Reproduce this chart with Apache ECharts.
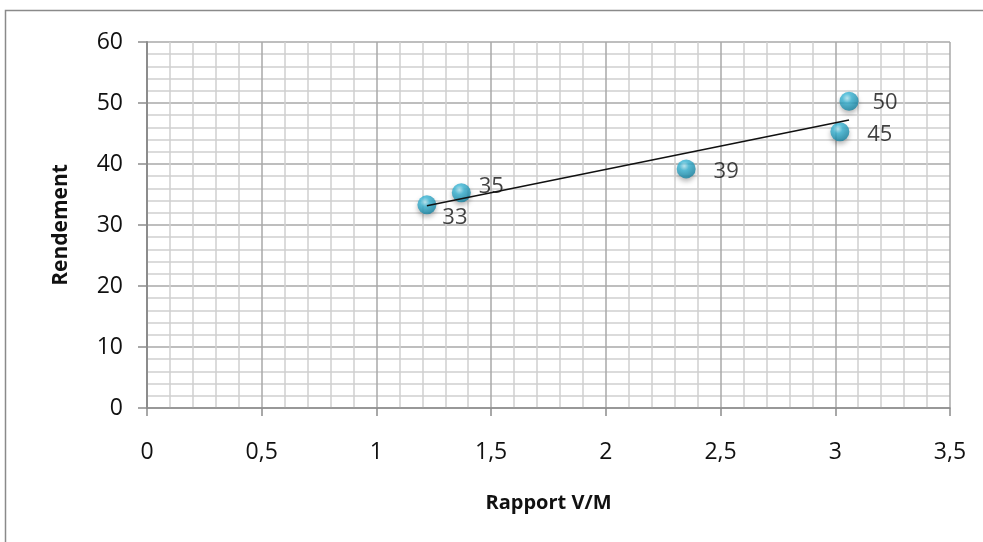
<!DOCTYPE html>
<html><head><meta charset="utf-8">
<script src="https://cdn.jsdelivr.net/npm/echarts@6/dist/echarts.min.js"></script>
<style>html,body{margin:0;padding:0;background:#fff}#c{width:983px;height:542px}</style>
</head><body><div id="c"></div>
<script>
const ratioVM = [1.22, 1.37, 2.35, 3.02, 3.06];
const rendement = [33.3, 35.3, 39.2, 45.3, 50.3];
const pointLabels = ['33', '35', '39', '45', '50'];
const xTicks = ['0', '0,5', '1', '1,5', '2', '2,5', '3', '3,5'];

// linear trend line from data (least squares)
const n = ratioVM.length;
const mx = ratioVM.reduce((a,b)=>a+b,0)/n;
const my = rendement.reduce((a,b)=>a+b,0)/n;
let sxy=0, sxx=0;
for (let i=0;i<n;i++){ sxy+=(ratioVM[i]-mx)*(rendement[i]-my); sxx+=(ratioVM[i]-mx)**2; }
const slope = sxy/sxx, icpt = my - slope*mx;
const xMin = Math.min(...ratioVM), xMax = Math.max(...ratioVM);
const trend = [[xMin, icpt+slope*xMin],[xMax, icpt+slope*xMax]];

const font = '"Open Sans", "DejaVu Sans", sans-serif';
const offsets = [[28,13],[30,-6],[40,3],[40,3],[36,2]];
const scatterData = ratioVM.map((x,i)=>({
  value:[x, rendement[i]],
  label:{show:true, formatter: pointLabels[i], position:'inside', offset: offsets[i],
    fontFamily:font, fontSize:22, color:'#111'}
}));

const chart = echarts.init(document.getElementById('c'), null, {renderer:'canvas'});
chart.setOption({
  animation:false,
  backgroundColor:'#fff',
  graphic:[{type:'rect', shape:{x:5.5,y:10.5,width:1000,height:600}, style:{fill:'none', stroke:'#8a8a8a', lineWidth:1.5}, silent:true}],
  grid:{left:147, right:33, top:42, bottom:134},
  xAxis:{
    type:'value', min:0, max:3.5, interval:0.5,
    name:'Rapport V/M', nameLocation:'middle', nameGap:85,
    nameTextStyle:{fontFamily:font, fontSize:20, fontWeight:'bold', color:'#111'},
    axisLine:{show:true, onZero:false, lineStyle:{color:'#8c8c8c', width:1.5}},
    axisTick:{show:true, length:8, lineStyle:{color:'#8c8c8c', width:1.5}},
    axisLabel:{margin:33, fontFamily:font, fontSize:23, color:'#111',
      formatter:(v)=>xTicks[Math.round(v/0.5)]},
    splitLine:{show:true, lineStyle:{color:'#a8a8a8', width:1.5}},
    minorTick:{show:false, splitNumber:5},
    minorSplitLine:{show:true, lineStyle:{color:'#d0d0d0', width:1.5}}
  },
  yAxis:{
    type:'value', min:0, max:60, interval:10,
    name:'Rendement', nameLocation:'middle', nameGap:75, nameRotate:90,
    nameTextStyle:{fontFamily:font, fontSize:21, fontWeight:'bold', color:'#111'},
    axisLine:{show:true, onZero:false, lineStyle:{color:'#8c8c8c', width:2}},
    axisTick:{show:true, length:9, lineStyle:{color:'#8c8c8c', width:1.5}},
    axisLabel:{margin:24, fontFamily:font, fontSize:23, color:'#111'},
    splitLine:{show:true, lineStyle:{color:'#a8a8a8', width:1.5}},
    minorTick:{show:false, splitNumber:5},
    minorSplitLine:{show:true, lineStyle:{color:'#d0d0d0', width:1.5}}
  },
  series:[
    {
      type:'scatter', z:2,
      symbol:'circle', symbolSize:19,
      itemStyle:{
        color:{type:'radial', x:0.4, y:0.35, r:0.7, colorStops:[
          {offset:0, color:'#b8ecf8'},{offset:0.35, color:'#3cb8d8'},{offset:1, color:'#137f9e'}]},
        shadowBlur:5, shadowColor:'rgba(0,0,0,0.35)', shadowOffsetY:3
      },
      data:scatterData
    },
    {
      type:'line', z:3, data:trend, symbol:'none',
      lineStyle:{color:'#111', width:1.5}
    }
  ]
});
</script></body></html>
